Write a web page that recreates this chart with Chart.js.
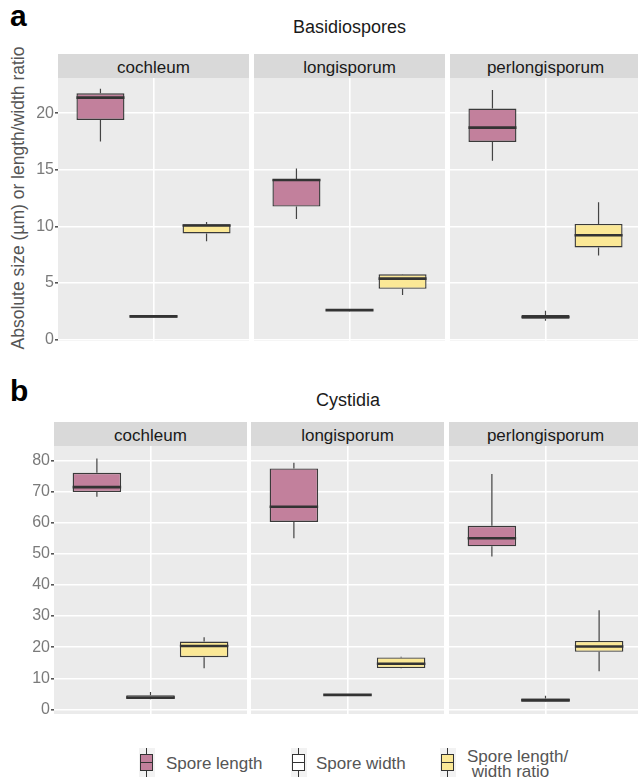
<!DOCTYPE html>
<html>
<head>
<meta charset="utf-8">
<script src="https://cdn.jsdelivr.net/npm/chart.js@4.4.0/dist/chart.umd.min.js"></script>
<style>
  html, body { margin: 0; padding: 0; background: #fff; width: 638px; height: 779px; overflow: hidden;
    font-family: "Liberation Sans", Arial, sans-serif; }
  canvas { position: absolute; }
  .txt { position: absolute; white-space: pre; }
  .strip { position: absolute; height: 24px; background: #d9d9d9; color: #1a1a1a; font-size: 17px;
    line-height: 27px; text-align: center; overflow: hidden; }
  .tag { position: absolute; font-weight: bold; font-size: 30px; line-height: 34px; color: #000; }
  .title { position: absolute; font-size: 18px; line-height: 20px; color: #1a1a1a; text-align: center; }
  .key { position: absolute; width: 16px; height: 29px; background: #f2f2f2; }
  .key .wh { position: absolute; left: 7px; top: 0; width: 1.2px; height: 29px; background: #333; }
  .key .bx { position: absolute; left: 1px; top: 6px; width: 11px; height: 15px; border: 1px solid #333; }
  .key .md { position: absolute; left: 1px; top: 13.5px; width: 13px; height: 1.6px; background: #333; }
  .leg { position: absolute; font-size: 17px; color: #555; white-space: pre; }
</style>
</head>
<body>
<div class="tag" style="left:10px; top:-1px;">a</div>
<div class="title" style="left:58px; width:583px; top:16.5px;">Basidiospores</div>
<div class="tag" style="left:10px; top:374px;">b</div>
<div class="title" style="left:54px; width:588px; top:390px;">Cystidia</div>
<div class="txt" style="left:17.5px; top:197.5px; font-size:17.5px; color:#555;
  transform: translate(-50%, -50%) rotate(-90deg);">Absolute size (µm) or length/width ratio</div>

<script>
// facets and series
const species = ['cochleum', 'longisporum', 'perlongisporum'];
const series = ['Spore length', 'Spore width', 'Spore length/\n width ratio'];
const seriesColors = ['#c2809c', '#ffffff', '#fbe896'];

// Basidiospores, one row per species: [length, width, ratio]
const basLow  = [[17.5, 1.94, 8.68], [10.65, 2.5, 3.94], [15.8, 1.67, 7.43]];
const basQ1   = [[19.4, 1.94, 9.37], [11.75, 2.57, 4.49], [17.45, 1.84, 8.14]];
const basMed  = [[21.37, 2.05, 10.08], [14.1, 2.61, 5.39], [18.72, 2.0, 9.22]];
const basQ3   = [[21.75, 2.16, 10.19], [14.15, 2.64, 5.77], [20.4, 2.17, 10.22]];
const basHigh = [[22.15, 2.16, 10.39], [15.12, 2.66, 5.8], [22.03, 2.55, 12.13]];

// Cystidia, one row per species: [length, width, ratio]
const cysLow  = [[68.3, 3.3, 13.2], [55.0, 4.55, 13.2], [49.1, 2.4, 12.3]];
const cysQ1   = [[69.8, 3.4, 16.8], [60.2, 4.6, 13.3], [52.4, 2.5, 18.5]];
const cysMed  = [[71.4, 3.85, 20.4], [65.1, 4.7, 14.7], [55.0, 3.0, 20.2]];
const cysQ3   = [[76.0, 4.6, 21.8], [77.4, 4.8, 16.7], [59.0, 3.5, 22.0]];
const cysHigh = [[80.6, 5.6, 23.2], [79.2, 4.85, 16.9], [75.6, 4.4, 31.9]];

// y axis ticks
const basTicks = [0, 5, 10, 15, 20];
const cysTicks = [0, 10, 20, 30, 40, 50, 60, 70, 80];

// dodge positions of the three boxes around the single x slot
const dodgeX = [2 / 3, 1, 4 / 3];
const PAD = 14;

const rows = [
  { low: basLow, q1: basQ1, med: basMed, q3: basQ3, high: basHigh, ticks: basTicks,
    yMin: -0.12, yMax: 23.1, top: 78, bottom: 341, strip: 54,
    panels: [[58, 249], [254, 445], [450, 641]] },
  { low: cysLow, q1: cysQ1, med: cysMed, q3: cysQ3, high: cysHigh, ticks: cysTicks,
    yMin: -1.45, yMax: 84.6, top: 446, bottom: 714, strip: 422,
    panels: [[54, 247], [251, 444], [449, 642]] }
];

// grey panel background
const panelBg = {
  id: 'panelBg',
  beforeDraw(chart) {
    const a = chart.chartArea;
    const ctx = chart.ctx;
    ctx.save();
    ctx.fillStyle = '#ebebeb';
    ctx.fillRect(a.left, a.top, a.right - a.left, a.bottom - a.top);
    ctx.restore();
  }
};

// whiskers under the boxes, medians on top
const boxParts = {
  id: 'boxParts',
  beforeDatasetsDraw(chart) {
    const ctx = chart.ctx;
    const y = chart.scales.y;
    ctx.save();
    ctx.strokeStyle = '#444';
    ctx.lineWidth = 1.2;
    chart.data.datasets.forEach((ds, i) => {
      chart.getDatasetMeta(i).data.forEach((el, j) => {
        const d = ds.data[j];
        ctx.beginPath();
        ctx.moveTo(el.x, y.getPixelForValue(d.high));
        ctx.lineTo(el.x, y.getPixelForValue(d.y[1]));
        ctx.moveTo(el.x, y.getPixelForValue(d.y[0]));
        ctx.lineTo(el.x, y.getPixelForValue(d.low));
        ctx.stroke();
      });
    });
    ctx.restore();
  },
  afterDatasetsDraw(chart) {
    const ctx = chart.ctx;
    const y = chart.scales.y;
    ctx.save();
    ctx.strokeStyle = '#333';
    ctx.lineWidth = 2.6;
    chart.data.datasets.forEach((ds, i) => {
      chart.getDatasetMeta(i).data.forEach((el, j) => {
        const d = ds.data[j];
        const py = y.getPixelForValue(d.med);
        ctx.beginPath();
        ctx.moveTo(el.x - el.width / 2, py);
        ctx.lineTo(el.x + el.width / 2, py);
        ctx.stroke();
      });
    });
    ctx.restore();
  }
};

function makePanel(row, p) {
  const [left, right] = row.panels[p];
  const first = p === 0;
  const cLeft = first ? 0 : left;

  // strip label
  const strip = document.createElement('div');
  strip.className = 'strip';
  strip.style.left = left + 'px';
  strip.style.width = (right - left) + 'px';
  strip.style.top = row.strip + 'px';
  strip.textContent = species[p];
  document.body.appendChild(strip);

  const cv = document.createElement('canvas');
  cv.width = right - cLeft;
  cv.height = row.bottom - row.top + 2 * PAD;
  cv.style.left = cLeft + 'px';
  cv.style.top = (row.top - PAD) + 'px';
  document.body.appendChild(cv);

  const datasets = series.map((name, s) => ({
    label: name,
    data: [{ x: dodgeX[s], y: [row.q1[p][s], row.q3[p][s]],
             low: row.low[p][s], med: row.med[p][s], high: row.high[p][s] }],
    backgroundColor: seriesColors[s],
    borderColor: '#3a3a3a',
    borderWidth: 1.4,
    borderSkipped: false,
    grouped: false,
    barPercentage: 0.905,
    categoryPercentage: 1
  }));

  new Chart(cv, {
    type: 'bar',
    data: { datasets },
    options: {
      responsive: false,
      animation: false,
      events: [],
      layout: { padding: { top: PAD, bottom: PAD, left: 0, right: 0 } },
      plugins: { legend: { display: false }, tooltip: { enabled: false } },
      scales: {
        x: {
          type: 'linear',
          min: 0.4,
          max: 1.6,
          offset: false,
          afterBuildTicks: s => { s.ticks = [{ value: 1 }]; },
          afterFit: s => { s.height = 0; },
          ticks: { display: false },
          grid: { color: '#ffffff', lineWidth: 1.6, drawTicks: false, offset: false },
          border: { display: false }
        },
        y: {
          type: 'linear',
          min: row.yMin,
          max: row.yMax,
          afterBuildTicks: s => { s.ticks = row.ticks.map(v => ({ value: v })); },
          afterFit: s => { s.width = first ? left : 0; },
          ticks: {
            display: first,
            color: '#7a7a7a',
            padding: 1,
            font: { size: 16, family: '"Liberation Sans", Arial, sans-serif' }
          },
          grid: { color: '#ffffff', lineWidth: 1.6, drawTicks: first, tickLength: 3, tickColor: '#555' },
          border: { display: false }
        }
      }
    },
    plugins: [panelBg, boxParts]
  });
}

rows.forEach(row => species.forEach((sp, p) => makePanel(row, p)));

// legend
const keyX = [139, 291, 440];
const textX = [166, 316, 467];
series.forEach((name, s) => {
  const key = document.createElement('div');
  key.className = 'key';
  key.style.left = keyX[s] + 'px';
  key.style.top = '748px';
  key.innerHTML = '<div class="wh"></div><div class="bx" style="background:' + seriesColors[s] +
    '"></div><div class="md"></div>';
  document.body.appendChild(key);
  const t = document.createElement('div');
  t.className = 'leg';
  t.style.left = textX[s] + 'px';
  const twoLines = name.indexOf('\n') >= 0;
  t.style.top = twoLines ? '749.3px' : '753.6px';
  t.style.lineHeight = twoLines ? '15px' : '20px';
  t.textContent = name;
  document.body.appendChild(t);
});
</script>
</body>
</html>
